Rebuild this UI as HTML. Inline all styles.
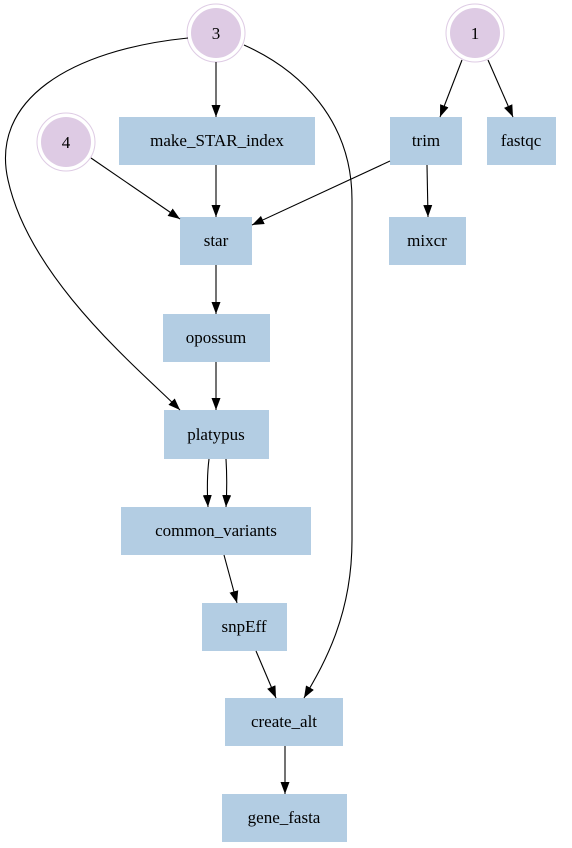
<!DOCTYPE html>
<html><head><meta charset="utf-8"><style>html,body{margin:0;padding:0;background:#fff}svg{display:block}</style></head>
<body>
<svg width="572" height="848" viewBox="0 0 572 848" xmlns="http://www.w3.org/2000/svg">
<defs><marker id="a" viewBox="0 0 12 10" refX="12" refY="5" markerWidth="12" markerHeight="10" markerUnits="userSpaceOnUse" orient="auto"><path d="M0,0.5 L12,5 L0,9.5 Z" fill="#000"/></marker></defs>
<g fill="#b3cde3">
<rect x="119" y="117" width="196" height="48"/>
<rect x="390" y="117" width="72" height="48"/>
<rect x="487" y="117" width="69" height="48"/>
<rect x="180" y="217" width="72" height="48"/>
<rect x="389" y="217" width="77" height="48"/>
<rect x="163" y="314" width="107" height="48"/>
<rect x="164" y="410" width="105" height="49"/>
<rect x="121" y="507" width="190" height="48"/>
<rect x="202" y="603" width="85" height="48"/>
<rect x="225" y="698" width="118" height="48"/>
<rect x="222" y="794" width="125" height="48"/>
</g>
<g fill="none" stroke="#decbe4" stroke-width="1">
<circle cx="216" cy="33" r="29"/><circle cx="475" cy="33" r="29"/><circle cx="66" cy="142" r="29"/>
</g>
<g fill="#decbe4">
<circle cx="216" cy="33" r="25"/><circle cx="475" cy="33" r="25"/><circle cx="66" cy="142" r="25"/>
</g>
<g stroke="#000" stroke-width="1.1" fill="none" marker-end="url(#a)">
<path d="M216,62 L216,117"/>
<path d="M462,60 L440,117"/>
<path d="M488,60 L513,117"/>
<path d="M91,158 L180,219"/>
<path d="M216,165 L216,217"/>
<path d="M390,161 L252,225"/>
<path d="M427,165 L428,217"/>
<path d="M216,265 L216,314"/>
<path d="M216,362 L216,410"/>
<path d="M188,38 C 70,50 -10,100 8,180 C 30,280 140,370 180,410"/>
<path d="M244,45 C 300,70 352,120 352,200 L 352,540 C 352,620 320,670 304,698"/>
<path d="M209,459 C 207,475 207,490 208,507"/>
<path d="M226,459 C 227,475 227,490 226,507"/>
<path d="M224,555 L237,603"/>
<path d="M256,651 L276,698"/>
<path d="M285,746 L285,794"/>
</g>
<g font-family="'Liberation Serif',serif" font-size="17" text-anchor="middle" fill="#000">
<text x="216" y="39">3</text><text x="475" y="39">1</text><text x="66" y="148">4</text>
<text x="217" y="146">make_STAR_index</text>
<text x="426" y="146">trim</text>
<text x="521" y="146">fastqc</text>
<text x="216" y="246">star</text>
<text x="427" y="246">mixcr</text>
<text x="216" y="343">opossum</text>
<text x="216" y="440">platypus</text>
<text x="216" y="536">common_variants</text>
<text x="244" y="632">snpEff</text>
<text x="284" y="727">create_alt</text>
<text x="284" y="823">gene_fasta</text>
</g>
</svg>
</body></html>
